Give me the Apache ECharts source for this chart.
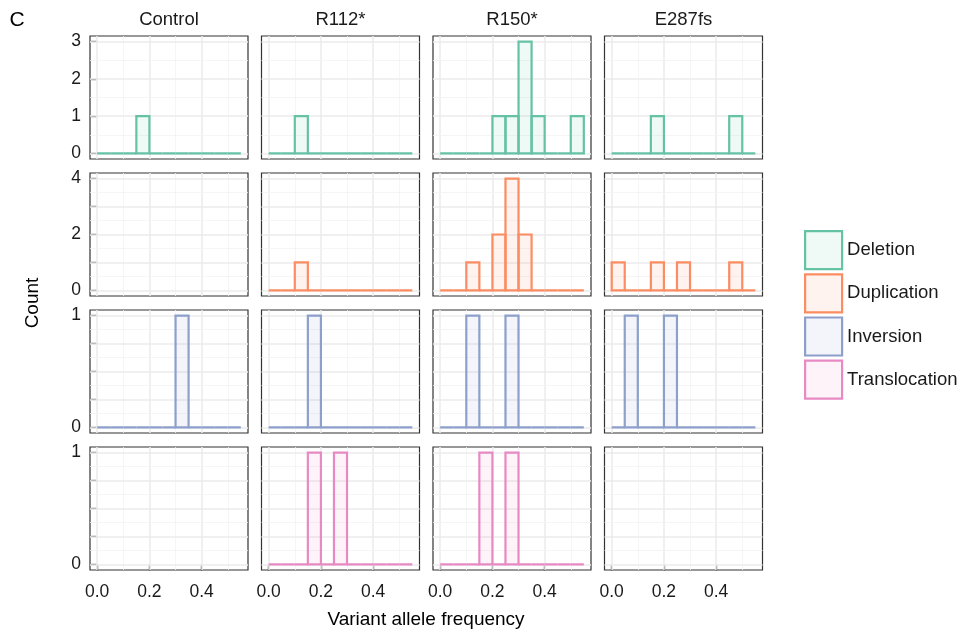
<!DOCTYPE html>
<html>
<head>
<meta charset="utf-8">
<script src="https://cdn.jsdelivr.net/npm/echarts@6/dist/echarts.min.js"></script>
<style>
html, body { margin: 0; background: #fff; }
#chart { width: 966px; height: 632px; }
</style>
</head>
<body>
<div id="chart"></div>
<script>
const genotypes = ['Control', 'R112*', 'R150*', 'E287fs'];
const svTypes = ['Deletion', 'Duplication', 'Inversion', 'Translocation'];
const svColors = ['#66c2a5', '#fc8d62', '#8da0cb', '#e78ac3'];
const svFills = ['rgba(102,194,165,0.1)', 'rgba(252,141,98,0.1)', 'rgba(141,160,203,0.1)', 'rgba(231,138,195,0.1)'];

// histogram bins (binwidth 0.05)
const binStarts = [0, 0.05, 0.1, 0.15, 0.2, 0.25, 0.3, 0.35, 0.4, 0.45, 0.5];
const binWidth = 0.05;

// counts per bin, one row per genotype (null = no variant of that type)
const deletionCounts = [
    [0, 0, 0, 1, 0, 0, 0, 0, 0, 0, 0],
    [0, 0, 1, 0, 0, 0, 0, 0, 0, 0, 0],
    [0, 0, 0, 0, 1, 1, 3, 1, 0, 0, 1],
    [0, 0, 0, 1, 0, 0, 0, 0, 0, 1, 0]
];
const duplicationCounts = [
    null,
    [0, 0, 1, 0, 0, 0, 0, 0, 0, 0, 0],
    [0, 0, 1, 0, 2, 4, 2, 0, 0, 0, 0],
    [1, 0, 0, 1, 0, 1, 0, 0, 0, 1, 0]
];
const inversionCounts = [
    [0, 0, 0, 0, 0, 0, 1, 0, 0, 0, 0],
    [0, 0, 0, 1, 0, 0, 0, 0, 0, 0, 0],
    [0, 0, 1, 0, 0, 1, 0, 0, 0, 0, 0],
    [0, 1, 0, 0, 1, 0, 0, 0, 0, 0, 0]
];
const translocationCounts = [
    null,
    [0, 0, 0, 1, 0, 1, 0, 0, 0, 0, 0],
    [0, 0, 0, 1, 0, 1, 0, 0, 0, 0, 0],
    null
];
const countsByType = [deletionCounts, duplicationCounts, inversionCounts, translocationCounts];

// axis ticks
const xTicks = [0, 0.2, 0.4];
const xMinorGrid = [0.1, 0.3, 0.5];
const yMaxByRow = [3, 4, 1, 1];
const yTicksByRow = [[0, 1, 2, 3], [0, 1, 2, 3, 4], [0, 0.25, 0.5, 0.75, 1], [0, 0.25, 0.5, 0.75, 1]];
const yLabelsByRow = [[0, 1, 2, 3], [0, 2, 4], [0, 1], [0, 1]];

const FONT = "'Liberation Sans', Arial, sans-serif";
const colLeft = [90, 261.5, 433, 604.5];
const rowTop = [36, 173, 310, 447];
const panelW = 158;
const panelH = 123;

const grid = [], xAxis = [], yAxis = [], series = [];

for (let r = 0; r < 4; r++) {
    const yTicks = yTicksByRow[r];
    const yMinor = [];
    for (let k = 0; k < yTicks.length - 1; k++) yMinor.push((yTicks[k] + yTicks[k + 1]) / 2);
    for (let c = 0; c < 4; c++) {
        const i = r * 4 + c;
        grid.push({
            left: colLeft[c], top: rowTop[r], width: panelW, height: panelH,
            show: true, borderColor: '#333', borderWidth: 1.2, backgroundColor: '#fff'
        });
        xAxis.push({
            gridIndex: i, type: 'value', min: -0.0275, max: 0.5775,
            splitLine: { show: false },
            axisLine: { show: false },
            axisTick: { show: r === 3, customValues: xTicks, length: 6, lineStyle: { color: '#333', width: 1.3 } },
            axisLabel: {
                show: r === 3, customValues: xTicks, margin: 13,
                formatter: v => v.toFixed(1),
                color: '#1a1a1a', fontSize: 17.5, fontFamily: FONT
            }
        });
        yAxis.push({
            gridIndex: i, type: 'value', min: -0.05 * yMaxByRow[r], max: 1.05 * yMaxByRow[r],
            splitLine: { show: false },
            axisLine: { show: false },
            axisTick: { show: c === 0, customValues: yTicks, length: 6, lineStyle: { color: '#333', width: 1.3 } },
            axisLabel: {
                show: c === 0, customValues: yLabelsByRow[r], margin: 9,
                color: '#1a1a1a', fontSize: 17.5, fontFamily: FONT
            }
        });

        // panel grid lines (ggplot style major + minor), kept under the bars
        const major = { color: '#ebebeb', width: 1.5, type: 'solid' };
        const minor = { color: '#f2f2f2', width: 0.8, type: 'solid' };
        const lines = [];
        xTicks.forEach(v => lines.push({ xAxis: v, lineStyle: major }));
        xMinorGrid.forEach(v => lines.push({ xAxis: v, lineStyle: minor }));
        yTicks.forEach(v => lines.push({ yAxis: v, lineStyle: major }));
        yMinor.forEach(v => lines.push({ yAxis: v, lineStyle: minor }));
        series.push({
            type: 'line', xAxisIndex: i, yAxisIndex: i, data: [], silent: true, z: 1,
            markLine: { z: 1, silent: true, symbol: 'none', animation: false, label: { show: false }, data: lines }
        });

        const counts = countsByType[r][c];
        if (counts) {
            series.push({
                name: svTypes[r],
                type: 'custom',
                xAxisIndex: i, yAxisIndex: i, z: 10,
                itemStyle: { color: svColors[r] },
                encode: { x: [0, 1], y: 2 },
                data: binStarts.map((b, k) => [b, b + binWidth, counts[k]]),
                renderItem: (params, api) => {
                    const p0 = api.coord([api.value(0), api.value(2)]);
                    const p1 = api.coord([api.value(1), 0]);
                    return {
                        type: 'rect',
                        shape: { x: p0[0], y: p0[1], width: p1[0] - p0[0], height: p1[1] - p0[1] },
                        style: { fill: svFills[r], stroke: svColors[r], lineWidth: 2.2 }
                    };
                }
            });
        }
    }
}

const graphic = [
    { type: 'text', x: 17, y: 20, style: { text: 'C', fontSize: 21, fontFamily: FONT, fill: '#000', textAlign: 'center', textVerticalAlign: 'middle' } },
    { type: 'text', x: 426, y: 620, style: { text: 'Variant allele frequency', fontSize: 19, fontFamily: FONT, fill: '#000', textAlign: 'center', textVerticalAlign: 'middle' } },
    { type: 'text', x: 33, y: 303, rotation: Math.PI / 2, style: { text: 'Count', fontSize: 19, fontFamily: FONT, fill: '#000', textAlign: 'center', textVerticalAlign: 'middle' } }
];
genotypes.forEach((g, c) => {
    graphic.push({
        type: 'text', x: colLeft[c] + panelW / 2, y: 20,
        style: { text: g, fontSize: 18.5, fontFamily: FONT, fill: '#1a1a1a', textAlign: 'center', textVerticalAlign: 'middle' }
    });
});

const chart = echarts.init(document.getElementById('chart'));
chart.setOption({
    animation: false,
    backgroundColor: '#fff',
    grid: grid,
    xAxis: xAxis,
    yAxis: yAxis,
    legend: {
        orient: 'vertical', left: 804, top: 230, padding: 0,
        itemWidth: 37, itemHeight: 38, itemGap: 3,
        selectedMode: false,
        textStyle: { fontSize: 18.5, color: '#1a1a1a', fontFamily: FONT, padding: [5, 0, 0, 0] },
        data: svTypes.map((n, k) => ({
            name: n, icon: 'rect',
            itemStyle: { color: svFills[k], borderColor: svColors[k], borderWidth: 2.2 }
        }))
    },
    graphic: graphic,
    series: series
});
</script>
</body>
</html>
